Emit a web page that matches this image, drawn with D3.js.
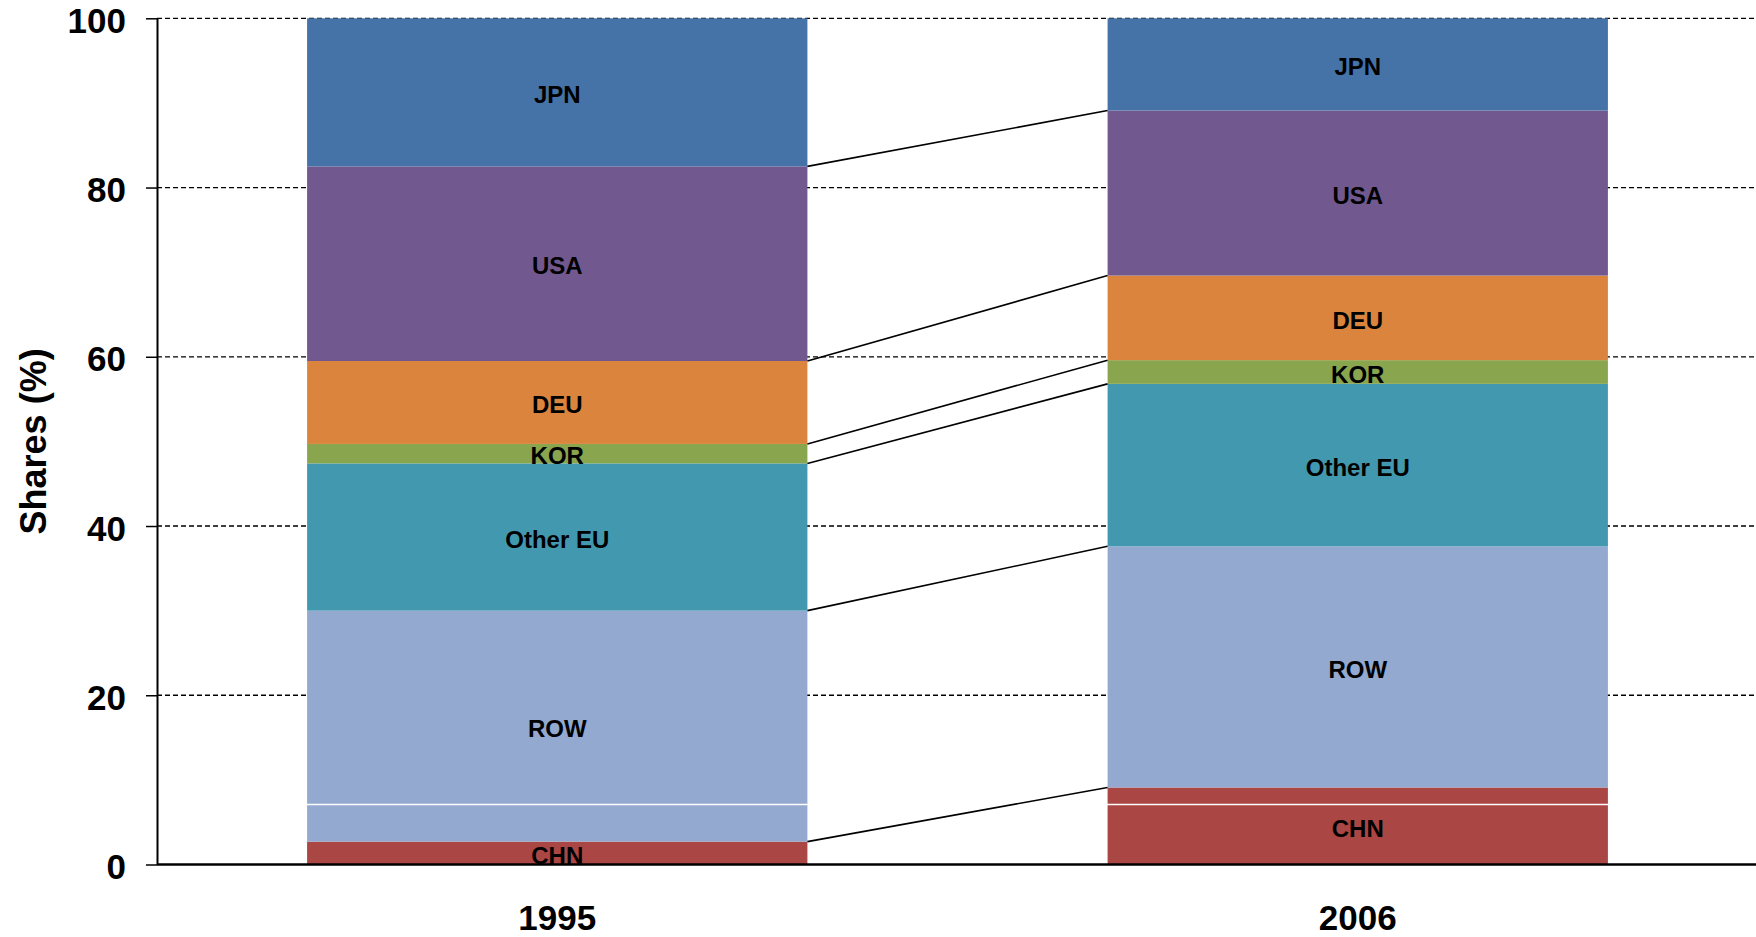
<!DOCTYPE html>
<html>
<head>
<meta charset="utf-8">
<script src="https://cdn.jsdelivr.net/npm/d3@7"></script>
<style>
    html, body { margin: 0; padding: 0; background: #fff; }
    svg text { font-family: "Liberation Sans", Arial, sans-serif; font-weight: bold; fill: #000; }
</style>
</head>
<body>
<div id="chart"></div>
<script>
// Shares by country, stacked from the bottom up
const years = ["1995", "2006"];
const countries = ["CHN", "ROW", "Other EU", "KOR", "DEU", "USA", "JPN"];
const shares1995 = [2.7, 27.3, 17.4, 2.3, 9.8, 23.0, 17.5];
const shares2006 = [9.1, 28.5, 19.2, 2.8, 10.0, 19.5, 10.9];
const colors = ["#AA4643", "#93A9CF", "#4198AF", "#89A54E", "#DB843D", "#71588F", "#4572A7"];
const yTicks = [0, 20, 40, 60, 80, 100];
const whiteLineLevel = 7.1;

const width = 1756, height = 937;
const margin = { top: 18, right: 0, bottom: 72, left: 157 };

/**
 * Build rows for d3.stack, one per year.
 * @returns {array} - rows keyed by country.
 */
function buildRows() {
    const series = [shares1995, shares2006];
    return years.map((year, i) => {
        const row = { year };
        countries.forEach((c, j) => { row[c] = series[i][j]; });
        return row;
    });
}

function drawChart() {
    const svg = d3.select("#chart")
        .append("svg")
        .attr("width", width)
        .attr("height", height);

    const x = d3.scaleBand()
        .domain(years)
        .range([margin.left, 1758])
        .paddingInner(0.375)
        .paddingOuter(0.1875);

    const y = d3.scaleLinear()
        .domain([0, 100])
        .range([height - margin.bottom - 0.5, margin.top + 0.3]);

    const color = d3.scaleOrdinal().domain(countries).range(colors);

    // dashed gridlines
    svg.append("g")
        .selectAll("line")
        .data(yTicks.filter(t => t > 0))
        .enter().append("line")
        .attr("x1", margin.left)
        .attr("x2", width)
        .attr("y1", d => y(d))
        .attr("y2", d => y(d))
        .attr("stroke", "#000")
        .attr("stroke-width", 1.3)
        .attr("stroke-dasharray", "5,3");

    const stacked = d3.stack().keys(countries)(buildRows());

    const layers = svg.append("g")
        .selectAll("g")
        .data(stacked)
        .enter().append("g")
        .attr("fill", d => color(d.key));

    layers.selectAll("rect")
        .data(d => d)
        .enter().append("rect")
        .attr("x", d => x(d.data.year))
        .attr("width", x.bandwidth())
        .attr("y", d => y(d[1]))
        .attr("height", d => y(d[0]) - y(d[1]));

    // thin white line crossing both bars
    svg.append("line")
        .attr("x1", margin.left)
        .attr("x2", width)
        .attr("y1", y(whiteLineLevel))
        .attr("y2", y(whiteLineLevel))
        .attr("stroke", "#fff")
        .attr("stroke-width", 1.5);

    // connectors between segment tops
    svg.append("g")
        .selectAll("line")
        .data(stacked.slice(0, -1))
        .enter().append("line")
        .attr("x1", x(years[0]) + x.bandwidth())
        .attr("y1", d => y(d[0][1]))
        .attr("x2", x(years[1]))
        .attr("y2", d => y(d[1][1]))
        .attr("stroke", "#000")
        .attr("stroke-width", 1.6);

    // segment labels
    layers.selectAll("text")
        .data(d => d.map(v => ({ key: d.key, v })))
        .enter().append("text")
        .attr("x", d => x(d.v.data.year) + x.bandwidth() / 2)
        .attr("y", d => (y(d.v[0]) + y(d.v[1])) / 2)
        .attr("dy", "0.45em")
        .attr("text-anchor", "middle")
        .style("font-size", "24px")
        .text(d => d.key);

    // y axis
    const yAxis = svg.append("g")
        .attr("transform", `translate(${margin.left},0)`)
        .call(d3.axisLeft(y).tickValues(yTicks).tickSize(11).tickSizeOuter(0).tickPadding(20));
    yAxis.select(".domain").attr("stroke", "#000").attr("stroke-width", 2);
    yAxis.selectAll(".tick line").attr("stroke", "#000").attr("stroke-width", 1.5);
    yAxis.selectAll(".tick text")
        .attr("dy", "0.4em")
        .style("font-size", "35px")
        .style("font-family", "'Liberation Sans', Arial, sans-serif")
        .style("font-weight", "bold");

    // x axis baseline
    svg.append("line")
        .attr("x1", margin.left)
        .attr("x2", width)
        .attr("y1", y(0))
        .attr("y2", y(0))
        .attr("stroke", "#000")
        .attr("stroke-width", 2.5);

    svg.append("g")
        .selectAll("text")
        .data(years)
        .enter().append("text")
        .attr("x", d => x(d) + x.bandwidth() / 2)
        .attr("y", 930)
        .attr("text-anchor", "middle")
        .style("font-size", "35px")
        .text(d => d);

    svg.append("text")
        .attr("transform", `translate(46,${(y(0) + y(100)) / 2}) rotate(-90)`)
        .attr("text-anchor", "middle")
        .style("font-size", "36px")
        .text("Shares (%)");
}

drawChart();
</script>
</body>
</html>
